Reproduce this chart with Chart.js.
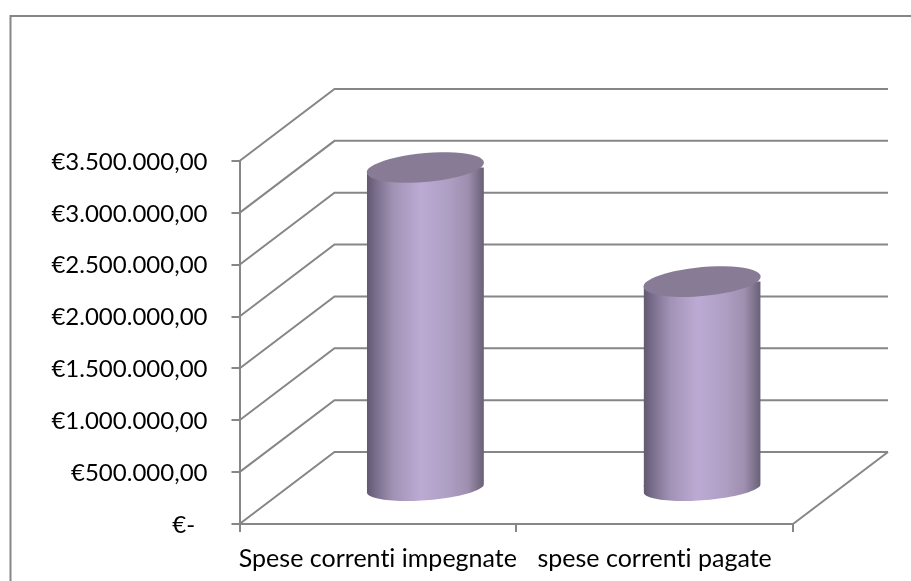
<!DOCTYPE html>
<html><head><meta charset="utf-8">
<style>html,body{margin:0;padding:0;background:#fff}#w{position:relative;width:911px;height:581px;overflow:hidden}canvas{display:block}</style>
<script src="https://cdn.jsdelivr.net/npm/chart.js@4"></script>
</head><body><div id="w"><canvas id="c" width="911" height="581"></canvas></div>
<script>
const categories = ['Spese correnti impegnate', 'spese correnti pagate'];
const values = [3090000, 1990000];
const yTickLabels = ['€-  ', '€500.000,00', '€1.000.000,00', '€1.500.000,00', '€2.000.000,00', '€2.500.000,00', '€3.000.000,00', '€3.500.000,00'];
const yMax = 3500000, yStep = 500000;
const lineColor = '#868686';
const depth = {dx: 95, dy: -72};
const mid = {dx: depth.dx / 2, dy: depth.dy / 2};
const capColor = '#887b96';
const barShare = 0.423;

function shade(chart, i) {
  const xs = chart.scales.x;
  if (!xs || !chart.chartArea) return '#b9a8d2';
  const w = (xs.width / categories.length) * barShare;
  const c = xs.getPixelForValue(i);
  const g = chart.ctx.createLinearGradient(c - w / 2, 0, c + w / 2, 0);
  g.addColorStop(0, '#625870'); g.addColorStop(0.09, '#7d7190'); g.addColorStop(0.23, '#a193b5');
  g.addColorStop(0.46, '#bcaad4'); g.addColorStop(0.69, '#ae9fc4'); g.addColorStop(0.86, '#9f90b0');
  g.addColorStop(0.97, '#746a82'); g.addColorStop(1, '#6a5f7a');
  return g;
}
function shearPath(ctx, cx, cy, hw, b, skew, a0, a1) {
  for (let k = 0; k <= 48; k++) {
    const t = a0 + (a1 - a0) * k / 48;
    ctx.lineTo(cx + hw * Math.cos(t), cy + skew * Math.cos(t) + b * Math.sin(t));
  }
}
const perspective = {
  id: 'perspective',
  beforeDraw(chart) {
    const ctx = chart.ctx;
    ctx.letterSpacing = '0.01px';
    ctx.save();
    ctx.strokeStyle = lineColor; ctx.lineWidth = 2;
    ctx.beginPath(); ctx.moveTo(10.5, 581); ctx.lineTo(10.5, 16); ctx.lineTo(911, 16); ctx.stroke();
    ctx.restore();
  },
  beforeDatasetsDraw(chart) {
    const {ctx, scales: {y: ys}, chartArea: a} = chart;
    ctx.save();
    ctx.strokeStyle = lineColor; ctx.lineWidth = 2; ctx.lineJoin = 'miter';
    yTickLabels.forEach((_, i) => {
      const p = ys.getPixelForValue(i * yStep);
      ctx.beginPath();
      ctx.moveTo(a.left, p); ctx.lineTo(a.left + depth.dx, p + depth.dy); ctx.lineTo(a.right + depth.dx, p + depth.dy);
      ctx.stroke();
    });
    const p0 = ys.getPixelForValue(0);
    ctx.beginPath(); ctx.moveTo(a.right, p0); ctx.lineTo(a.right + depth.dx, p0 + depth.dy); ctx.stroke();
    ctx.restore();
  },
  beforeDatasetDraw(chart) {
    const ctx = chart.ctx;
    const els = chart.getDatasetMeta(0).data;
    ctx.save();
    ctx.beginPath();
    els.forEach(el => {
      const hw = el.width / 2, cx = el.x + mid.dx;
      ctx.moveTo(cx - hw, el.y + mid.dy + 5);
      shearPath(ctx, cx, el.y + mid.dy, hw, 14.5, -5, Math.PI, 2 * Math.PI);
      shearPath(ctx, cx, el.base + mid.dy + 1, hw, 12.3, -4.2, 0, Math.PI);
      ctx.closePath();
    });
    ctx.clip();
    ctx.translate(mid.dx, mid.dy);
    els.forEach((el, i) => {
      ctx.fillStyle = shade(chart, i);
      ctx.fillRect(el.x - el.width / 2, el.base - 2, el.width, 20);
    });
  },
  afterDatasetDraw(chart) {
    const ctx = chart.ctx;
    ctx.restore();
    chart.getDatasetMeta(0).data.forEach(el => {
      const hw = el.width / 2, cx = el.x + mid.dx, cy = el.y + mid.dy;
      ctx.beginPath();
      shearPath(ctx, cx, cy, hw, 14.5, -5, Math.PI, 3 * Math.PI);
      ctx.closePath();
      ctx.fillStyle = capColor; ctx.fill();
    });
  }
};
new Chart(document.getElementById('c'), {
  type: 'bar',
  data: {labels: categories, datasets: [{data: values, backgroundColor: c => shade(c.chart, c.dataIndex), borderWidth: 0, categoryPercentage: barShare, barPercentage: 1}]},
  options: {
    responsive: false, animation: false,
    layout: {padding: {left: 0, right: 118, top: 161, bottom: 0}},
    plugins: {legend: {display: false}, tooltip: {enabled: false}, title: {display: false}},
    scales: {
      x: {afterFit(s) { s.height = 57; },
          grid: {drawOnChartArea: false, offset: true, color: lineColor, lineWidth: 2, tickLength: 8, tickColor: lineColor}, border: {color: lineColor, width: 2},
          ticks: {color: '#000', font: {family: 'Lato', size: 25}, padding: 12, maxRotation: 0, autoSkip: false}},
      y: {min: 0, max: yMax, afterFit(s) { s.width = 239.5; },
          grid: {drawOnChartArea: false, color: lineColor, lineWidth: 2, tickLength: 8, tickColor: lineColor}, border: {color: lineColor, width: 2},
          ticks: {stepSize: yStep, color: '#000', font: {family: 'Lato', size: 24}, padding: 24, labelOffset: 1, callback: (v, i) => yTickLabels[i]}}
    }
  },
  plugins: [perspective]
});
</script></body></html>
